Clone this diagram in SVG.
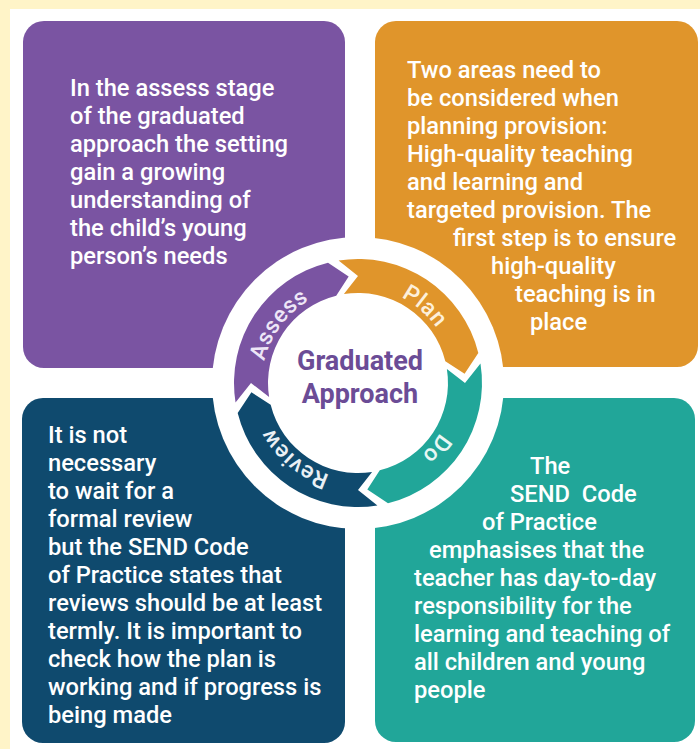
<svg xmlns="http://www.w3.org/2000/svg" xmlns:xlink="http://www.w3.org/1999/xlink" width="700" height="749" viewBox="0 0 700 749">
  <style>
    .body { font-family: Roboto, "Liberation Sans", Arial, sans-serif; font-size: 23.7px; font-weight: 500; fill: #FFFFFF; }
    .arc { font-family: Roboto, "Liberation Sans", Arial, sans-serif; font-size: 23px; font-weight: 500; letter-spacing: 0.5px; }
    .center { font-family: Roboto, "Liberation Sans", Arial, sans-serif; font-size: 27px; font-weight: 700; fill: #6B4C96; text-anchor: middle; }
  </style>
  <defs>
    <path id="pAssess" d="M 262.1 390.3 A 96 96 0 0 1 336.4 289.5"/>
    <path id="pPlan" d="M 359.7 287.0 A 96 96 0 0 1 452.8 368.0"/>
    <path id="pDo" d="M 454 383 A 96 96 0 0 1 374.7 477.5"/>
    <path id="pReview" d="M 358 479 A 96 96 0 0 1 263.5 399.7"/>
  </defs>

  <rect x="0" y="0" width="700" height="749" fill="#FFF4C8"/>
  <rect x="10" y="9" width="690" height="740" fill="#FFFFFF"/>

  <g id="box-assess">
    <rect x="23" y="21" width="322" height="347" rx="21" fill="#7A54A2"/>
    <text class="body">
      <tspan x="70" y="96">In the assess stage</tspan>
      <tspan x="70" y="124">of the graduated</tspan>
      <tspan x="70" y="152">approach the setting</tspan>
      <tspan x="70" y="180">gain a growing</tspan>
      <tspan x="70" y="208">understanding of</tspan>
      <tspan x="70" y="236">the child’s young</tspan>
      <tspan x="70" y="264">person’s needs</tspan>
    </text>
  </g>

  <g id="box-plan">
    <rect x="375" y="21" width="323" height="346" rx="21" fill="#E0952B"/>
    <text class="body">
      <tspan x="407" y="78">Two areas need to</tspan>
      <tspan x="407" y="106">be considered when</tspan>
      <tspan x="407" y="134">planning provision:</tspan>
      <tspan x="407" y="162">High-quality teaching</tspan>
      <tspan x="407" y="190">and learning and</tspan>
      <tspan x="407" y="218">targeted provision. The</tspan>
      <tspan x="453" y="246">first step is to ensure</tspan>
      <tspan x="491" y="274">high-quality</tspan>
      <tspan x="515" y="302">teaching is in</tspan>
      <tspan x="530" y="330">place</tspan>
    </text>
  </g>

  <g id="box-review">
    <rect x="22" y="398" width="323" height="345" rx="21" fill="#0F4A6E"/>
    <text class="body">
      <tspan x="48" y="443">It is not</tspan>
      <tspan x="48" y="471">necessary</tspan>
      <tspan x="48" y="499">to wait for a</tspan>
      <tspan x="48" y="527">formal review</tspan>
      <tspan x="48" y="555">but the SEND Code</tspan>
      <tspan x="48" y="583">of Practice states that</tspan>
      <tspan x="48" y="611">reviews should be at least</tspan>
      <tspan x="48" y="639">termly. It is important to</tspan>
      <tspan x="48" y="667">check how the plan is</tspan>
      <tspan x="48" y="695">working and if progress is</tspan>
      <tspan x="48" y="723">being made</tspan>
    </text>
  </g>

  <g id="box-do">
    <rect x="375" y="398" width="320" height="344" rx="21" fill="#21A699"/>
    <text class="body" xml:space="preserve">
      <tspan x="530" y="474">The</tspan>
      <tspan x="510" y="502">SEND  Code</tspan>
      <tspan x="482" y="530">of Practice</tspan>
      <tspan x="429" y="558">emphasises that the</tspan>
      <tspan x="414" y="586">teacher has day-to-day</tspan>
      <tspan x="414" y="614">responsibility for the</tspan>
      <tspan x="414" y="642">learning and teaching of</tspan>
      <tspan x="414" y="670">all children and young</tspan>
      <tspan x="414" y="698">people</tspan>
    </text>
  </g>

  <g id="hub">
    <circle cx="358" cy="383" r="146" fill="#FFFFFF"/>
    <text class="center"><tspan x="360" y="370">Graduated</tspan><tspan x="360" y="403">Approach</tspan></text>
  </g>

  <g id="connectors">
    <g id="arrow-assess">
      <path d="M 235.53 402.40 A 124 124 0 0 1 328.00 262.68 L 348.67 276.41 L 336.23 295.67 A 90 90 0 0 0 269.11 397.08 L 251 383 Z" fill="#7A54A2"/>
      <text class="arc" fill="#EEE6F7"><textPath xlink:href="#pAssess" startOffset="50%" text-anchor="middle">Assess</textPath></text>
    </g>
    <g id="arrow-plan">
      <path d="M 338.60 260.53 A 124 124 0 0 1 478.32 353.00 L 464.59 373.67 L 445.33 361.23 A 90 90 0 0 0 343.92 294.11 L 358 276 Z" fill="#E0952B"/>
      <text class="arc" fill="#FDF0DA"><textPath xlink:href="#pPlan" startOffset="50%" text-anchor="middle">Plan</textPath></text>
    </g>
    <g id="arrow-do">
      <path d="M 480.47 363.60 A 124 124 0 0 1 388.00 503.32 L 367.33 489.59 L 379.77 470.33 A 90 90 0 0 0 446.89 368.92 L 465 383 Z" fill="#21A699"/>
      <text class="arc" fill="#E8F7F4"><textPath xlink:href="#pDo" startOffset="50%" text-anchor="middle">Do</textPath></text>
    </g>
    <g id="arrow-review">
      <path d="M 377.40 505.47 A 124 124 0 0 1 237.68 413.00 L 251.41 392.33 L 270.67 404.77 A 90 90 0 0 0 372.08 471.89 L 358 490 Z" fill="#0F4A6E"/>
      <text class="arc" fill="#EAF0F5"><textPath xlink:href="#pReview" startOffset="50%" text-anchor="middle">Review</textPath></text>
    </g>
  </g>
</svg>
